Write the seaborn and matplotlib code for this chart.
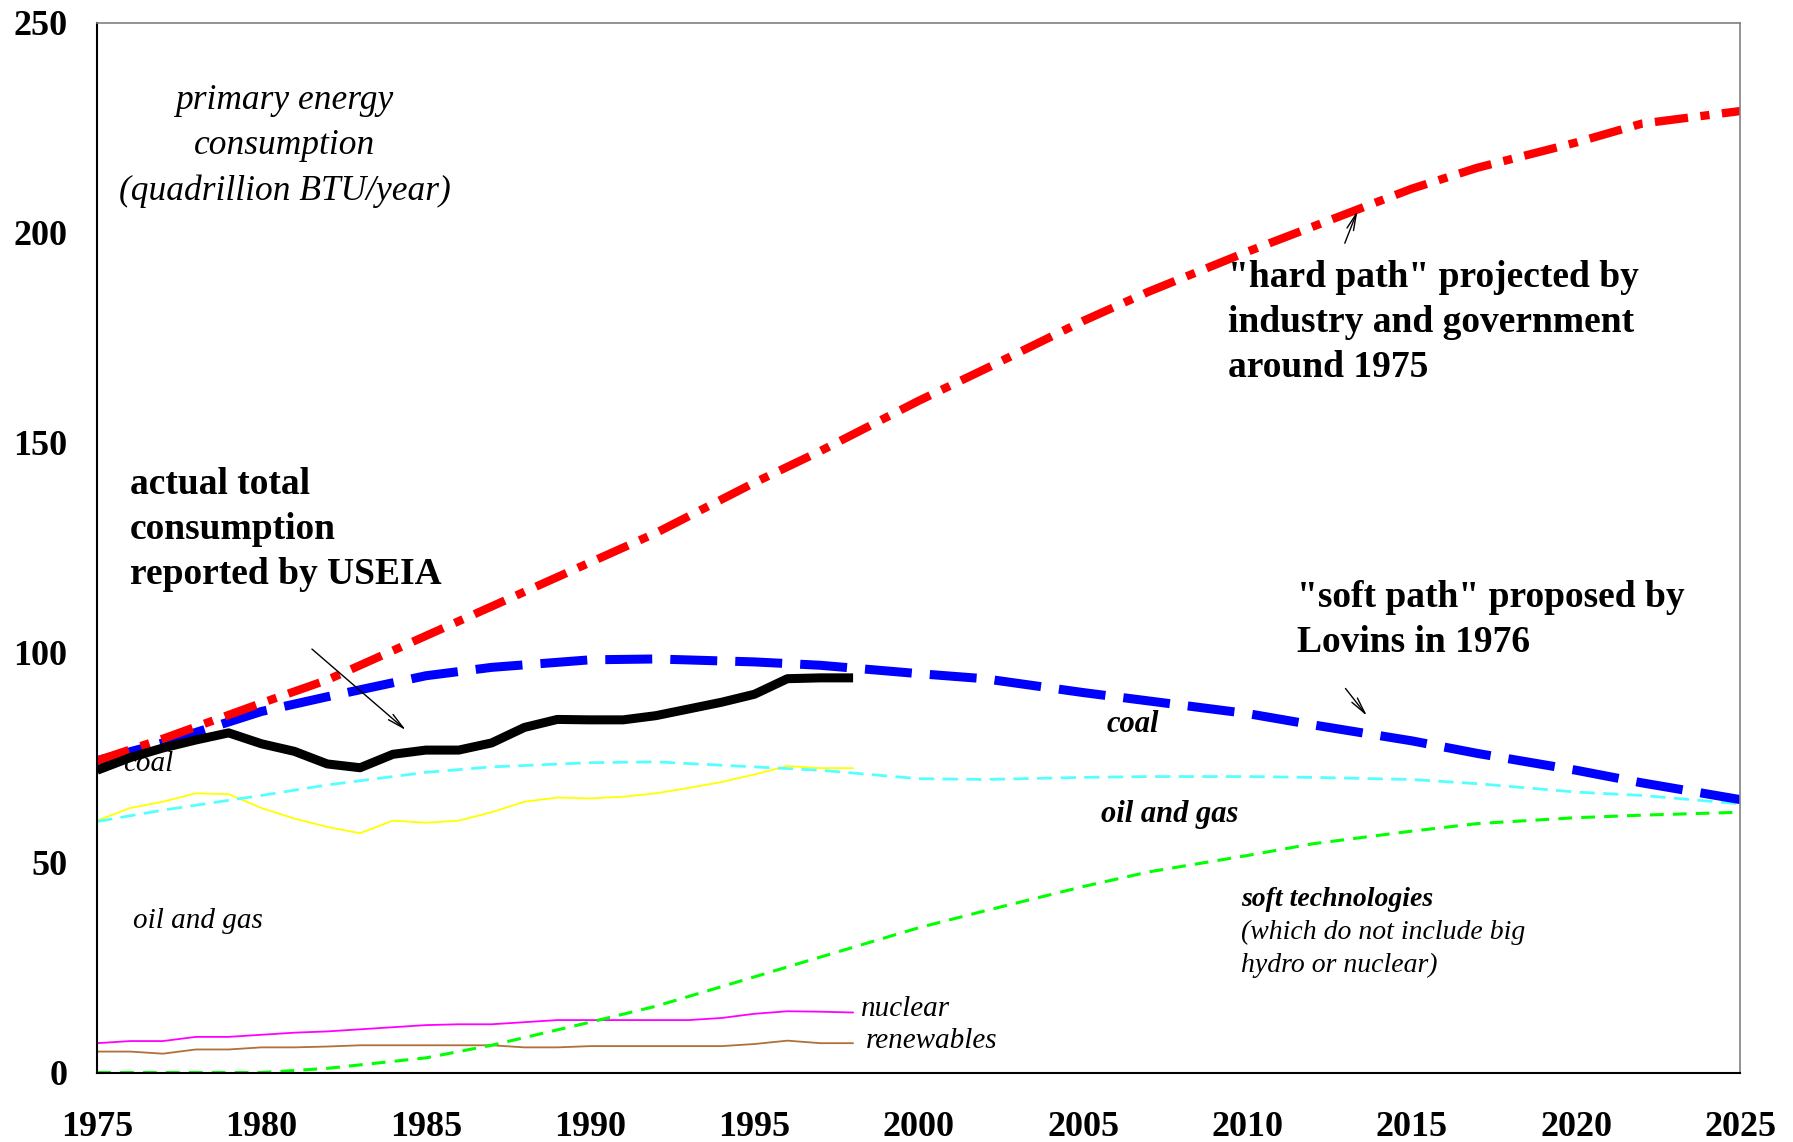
import numpy as np
import pandas as pd
import matplotlib
matplotlib.use("Agg")
import matplotlib.pyplot as plt
import seaborn as sns

# ---- data (quadrillion BTU / year) ----
actual_years = list(range(1975, 1999))
actual_total = [72.0, 75.0, 77.3, 79.2, 80.9, 78.3, 76.5, 73.5, 72.6, 75.8, 76.8, 76.8,
                78.5, 82.2, 84.1, 84.0, 84.0, 85.0, 86.6, 88.2, 90.1, 93.8, 94.0, 94.0]
actual_oilgas = [60.0, 63.0, 64.5, 66.5, 66.3, 63.0, 60.5, 58.5, 57.0, 60.0, 59.5, 60.0,
                 62.0, 64.5, 65.5, 65.3, 65.7, 66.5, 67.8, 69.2, 71.0, 73.0, 72.5, 72.5]
actual_nuclear = [7.0, 7.5, 7.5, 8.5, 8.5, 9.0, 9.5, 9.8, 10.3, 10.8, 11.3, 11.5,
                  11.5, 12.0, 12.5, 12.5, 12.5, 12.5, 12.5, 13.0, 14.0, 14.6, 14.5, 14.3]
actual_renew = [5.0, 5.0, 4.5, 5.5, 5.5, 6.0, 6.0, 6.2, 6.5, 6.5, 6.5, 6.5,
                6.5, 6.0, 6.0, 6.3, 6.3, 6.3, 6.3, 6.3, 6.8, 7.6, 7.0, 7.0]

proj_years = [1975, 1977, 1980, 1982, 1985, 1987, 1990, 1992, 1995, 1997, 2000,
              2002, 2005, 2007, 2010, 2012, 2015, 2017, 2020, 2022, 2025]
hard_path = [74.3, 79.5, 88.0, 93.5, 104.0, 111.0, 121.5, 128.5, 140.5, 148.0, 160.0,
             167.5, 179.0, 186.0, 195.5, 201.5, 210.5, 215.5, 221.5, 226.0, 229.0]
soft_path = [74.3, 78.5, 86.0, 89.5, 94.5, 96.5, 98.3, 98.5, 97.8, 97.0, 95.0,
             93.8, 90.5, 88.5, 85.5, 82.8, 79.0, 76.0, 72.0, 69.0, 65.0]
soft_oilgas = [59.8, 62.5, 66.0, 68.5, 71.5, 72.8, 73.8, 74.0, 72.8, 72.0, 70.0,
               69.8, 70.3, 70.5, 70.5, 70.3, 69.8, 68.8, 66.8, 66.0, 64.0]
soft_tech = [0.0, 0.0, 0.0, 1.0, 3.5, 6.5, 12.0, 15.8, 22.8, 27.5, 34.5,
             38.5, 44.3, 47.8, 51.7, 54.5, 57.5, 59.3, 60.7, 61.3, 62.0]

x_ticks = list(range(1975, 2026, 5))
y_ticks = [0, 50, 100, 150, 200, 250]

sns.set_style("white")
plt.rcParams['font.family'] = ['Liberation Serif', 'DejaVu Serif']
plt.rcParams['text.color'] = 'black'
plt.rcParams['xtick.color'] = 'black'
plt.rcParams['ytick.color'] = 'black'

fig = plt.figure(figsize=(17.93, 11.42), dpi=100)
ax = fig.add_axes([0.0542, 0.0608, 0.9165, 0.9192])

# thin actual component lines
sns.lineplot(x=actual_years, y=actual_oilgas, color="#FFFF00", lw=1.3, ax=ax)
sns.lineplot(x=actual_years, y=actual_nuclear, color="#FF00FF", lw=1.3, ax=ax)
sns.lineplot(x=actual_years, y=actual_renew, color="#B0703A", lw=1.3, ax=ax)

# soft path components
sns.lineplot(x=proj_years, y=soft_oilgas, color="#55FFFF", lw=2.0,
             linestyle=(0, (5.5, 3)), ax=ax)
sns.lineplot(x=proj_years, y=soft_tech, color="#00FF00", lw=2.2,
             linestyle=(0, (4.5, 3)), ax=ax)

# totals
sns.lineplot(x=proj_years, y=soft_path, color="#0000FF", lw=6.5,
             linestyle=(0, (5.2, 2.0)), ax=ax)
sns.lineplot(x=proj_years, y=hard_path, color="#FF0000", lw=6.0,
             linestyle=(0, (4.0, 1.5, 1.1, 1.5)), ax=ax)
sns.lineplot(x=actual_years, y=actual_total, color="black", lw=6.5,
             solid_joinstyle="round", solid_capstyle="butt", ax=ax)

ax.set_xlim(1975, 2025)
ax.set_ylim(0, 250)
ax.set_xticks(x_ticks)
ax.set_yticks(y_ticks)
ax.set_xticklabels([str(v) for v in x_ticks], fontsize=26, fontweight="bold")
ax.set_yticklabels([str(v) for v in y_ticks], fontsize=26, fontweight="bold")
ax.tick_params(axis="x", direction="inout", length=18, width=1, pad=19, color="#333333")
ax.tick_params(axis="y", direction="inout", length=17, width=1, pad=13, color="#333333")
ax.set_xlabel("")
ax.set_ylabel("")

for side in ["left", "bottom"]:
    ax.spines[side].set_color("black")
    ax.spines[side].set_linewidth(1.5)
for side in ["top", "right"]:
    ax.spines[side].set_color("#808080")
    ax.spines[side].set_linewidth(1.2)

# text
ax.text(1980.7, 220.6, "primary energy\nconsumption\n(quadrillion BTU/year)",
        fontsize=25.5, style="italic", ha="center", va="center", linespacing=1.48)
ax.text(1976.0, 129.3, "actual total\nconsumption\nreported by USEIA",
        fontsize=27, fontweight="bold", ha="left", va="center", linespacing=1.38)
ax.text(2009.4, 178.6, "\"hard path\" projected by\nindustry and government\naround 1975",
        fontsize=27, fontweight="bold", ha="left", va="center", linespacing=1.38)
ax.text(2011.5, 107.8, "\"soft path\" proposed by\nLovins in 1976",
        fontsize=27, fontweight="bold", ha="left", va="center", linespacing=1.38)

ax.text(1975.8, 73.5, "coal", fontsize=21, style="italic", ha="left", va="center")
ax.text(1976.08, 36.2, "oil and gas", fontsize=21, style="italic", ha="left", va="center")
ax.text(1998.24, 15.2, "nuclear", fontsize=21, style="italic", ha="left", va="center")
ax.text(1998.38, 7.6, "renewables", fontsize=21, style="italic", ha="left", va="center")
ax.text(2005.72, 83.0, "coal", fontsize=22, style="italic", fontweight="bold",
        ha="left", va="center")
ax.text(2005.55, 61.5, "oil and gas", fontsize=22, style="italic", fontweight="bold",
        ha="left", va="center")
ax.text(2009.8, 41.1, "soft technologies", fontsize=20, style="italic", fontweight="bold",
        ha="left", va="center")
ax.text(2009.8, 29.4, "(which do not include big\nhydro or nuclear)", fontsize=20,
        style="italic", ha="left", va="center", linespacing=1.4)

# arrows
arrow = dict(arrowstyle="->,head_length=1.2,head_width=0.25", color="black", lw=1.0)
ax.annotate("", xy=(1984.46, 81.1), xytext=(1981.47, 101.3), arrowprops=arrow)
ax.annotate("", xy=(2013.38, 205.9), xytext=(2012.93, 196.9), arrowprops=arrow)
ax.annotate("", xy=(2013.69, 84.4), xytext=(2012.93, 92.0), arrowprops=arrow)

fig.savefig("out.png", dpi=100)
